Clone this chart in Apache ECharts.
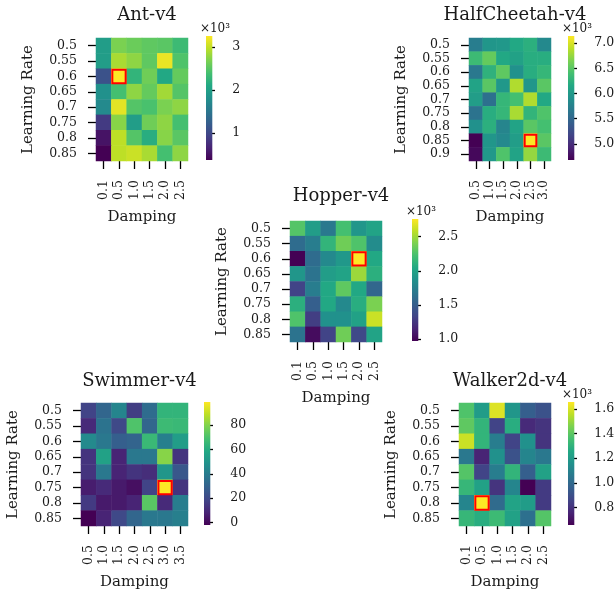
<!DOCTYPE html>
<html><head><meta charset="utf-8">
<script src="https://cdn.jsdelivr.net/npm/echarts@6/dist/echarts.min.js"></script>
<style>html,body{margin:0;padding:0;background:#fff}#c{width:616px;height:593px}</style>
</head><body><div id="c"></div>
<script>
// ---- categories ----
const lrRows8 = ['0.5','0.55','0.6','0.65','0.7','0.75','0.8','0.85'];
const lrRows9 = ['0.5','0.55','0.6','0.65','0.7','0.75','0.8','0.85','0.9'];
const dampA = ['0.1','0.5','1.0','1.5','2.0','2.5'];
const dampB = ['0.5','1.0','1.5','2.0','2.5','3.0'];
const dampC = ['0.5','1.0','1.5','2.0','2.5','3.0','3.5'];

// ---- values (rows = learning rate, cols = damping) ----
const antValues = [
  [1954, 2674, 2588, 2530, 2501, 2328],
  [1954, 2876, 2760, 2530, 3164, 2444],
  [1090, 3250, 2242, 2616, 2098, 2559],
  [1810, 2386, 2760, 2559, 2847, 2472],
  [1724, 3135, 2472, 2415, 2674, 2760],
  [ 860, 2732, 1954, 2616, 2760, 2386],
  [ 514, 2962, 2472, 2156, 2732, 2501],
  [ 370, 2962, 3020, 2876, 2386, 2760]
];
const halfCheetahValues = [
  [5713, 5959, 5984, 6156, 6230, 5836],
  [6353, 6550, 6156, 6082, 6205, 6205],
  [5664, 6254, 6525, 5910, 6205, 6304],
  [6107, 6500, 5984, 6845, 5959, 6500],
  [6033, 5590, 6304, 6402, 6845, 6156],
  [5615, 6205, 6304, 6820, 6279, 6451],
  [5910, 6230, 5787, 6107, 6500, 6402],
  [4680, 5959, 5836, 6033, 7140, 6500],
  [4730, 5984, 6451, 6107, 6746, 6353]
];
const hopperValues = [
  [2277, 1955, 1686, 2223, 1901, 2008],
  [1597, 1722, 2134, 2366, 2259, 1829],
  [ 970, 1597, 1811, 1919, 2760, 2044],
  [1901, 1650, 1955, 2008, 2492, 2098],
  [1328, 1722, 2044, 2313, 2044, 1561],
  [2098, 1507, 2044, 1811, 2080, 2402],
  [2259, 1292, 1865, 1865, 1990, 2617],
  [1650, 1024, 1328, 2366, 1364, 2008]
];
const swimmerValues = [
  [18.2, 31.3, 43.5, 16.2, 33.4, 63.7, 63.7],
  [10.1, 36.4, 20.2, 70.7, 31.3, 66.7, 65.7],
  [45.5, 38.4, 28.3, 30.3, 65.7, 41.4, 53.6],
  [13.2, 55.6,  8.1, 38.4, 38.4, 80.8, 13.2],
  [13.2, 38.4,  8.1, 13.2, 11.1, 50.5, 25.3],
  [ 6.1, 10.1,  5.1,  2.0, 18.2, 99.0, 13.2],
  [15.2,  5.1,  5.1,  8.1, 72.7, 10.1, 40.4],
  [-2.0,  8.1, 20.2, 31.3, 38.4, 38.4, 41.4]
];
const walkerValues = [
  [1376, 1207, 1605, 1177,  959,  909],
  [1406, 1307,  859, 1277,  779,  809],
  [1575, 1307, 1078,  859, 1158,  809],
  [1058,  760, 1158,  909, 1108, 1058],
  [1386,  859, 1078, 1307,  959, 1227],
  [1317, 1227,  809, 1108,  660,  829],
  [1108, 1655, 1008, 1237, 1207,  829],
  [1317, 1277, 1337, 1227, 1028, 1386]
];

// ---- colorbar tick values ----
const antTicks = [1000, 2000, 3000];
const halfCheetahTicks = [5000, 5500, 6000, 6500, 7000];
const hopperTicks = [1000, 1500, 2000, 2500];
const swimmerTicks = [0, 20, 40, 60, 80];
const walkerTicks = [800, 1000, 1200, 1400, 1600];

const viridis = ['#440154','#482475','#414487','#355f8d','#2a788e','#21918c','#22a884','#44bf70','#7ad151','#bddf26','#fde725'];
const FONT = 'DejaVu Serif';
const TXT = '#1a1a1a';

const panels = [
  {title:'Ant-v4', rows:lrRows8, cols:dampA, values:antValues, ticks:antTicks, scaled:true, digits:0,
   grid:{left:96, top:38, width:92, height:123}, bar:{left:206, top:36, height:124}, titleTop:1},
  {title:'HalfCheetah-v4', rows:lrRows9, cols:dampB, values:halfCheetahValues, ticks:halfCheetahTicks, scaled:true, digits:1,
   grid:{left:469, top:38, width:82, height:123}, bar:{left:568, top:36, height:124}, titleTop:1},
  {title:'Hopper-v4', rows:lrRows8, cols:dampA, values:hopperValues, ticks:hopperTicks, scaled:true, digits:1,
   grid:{left:290, top:221, width:92, height:121}, bar:{left:412, top:219, height:122}, titleTop:182},
  {title:'Swimmer-v4', rows:lrRows8, cols:dampC, values:swimmerValues, ticks:swimmerTicks, scaled:false, digits:0,
   grid:{left:81, top:403, width:107, height:123}, bar:{left:204, top:402, height:123}, titleTop:367},
  {title:'Walker2d-v4', rows:lrRows8, cols:dampA, values:walkerValues, ticks:walkerTicks, scaled:true, digits:1,
   grid:{left:459, top:403, width:92, height:123}, bar:{left:568, top:402, height:123}, titleTop:367}
];

const grids = [], xAxes = [], yAxes = [], series = [], visualMaps = [], titles = [];
const gradient = {type:'linear', x:0, y:1, x2:0, y2:0,
  colorStops: viridis.map((c, k) => ({offset: k / (viridis.length - 1), color: c}))};

panels.forEach((p, i) => {
  const flat = p.values.flat();
  const vmin = Math.min(...flat), vmax = Math.max(...flat);
  let bi = 0, bj = 0;
  const data = [];
  p.values.forEach((row, r) => row.forEach((v, c) => {
    data.push([c, r, v]);
    if (v === vmax) { bi = r; bj = c; }
  }));

  grids.push(Object.assign({outerBoundsMode:'none', containLabel:false}, p.grid));
  grids.push({outerBoundsMode:'none', containLabel:false, left:p.bar.left, top:p.bar.top, width:6.3, height:p.bar.height});
  const gi = grids.length - 2;

  titles.push({text:p.title, left:p.grid.left + p.grid.width / 2, top:p.titleTop, textAlign:'center',
    textStyle:{fontFamily:FONT, fontWeight:'normal', fontSize:18, color:TXT}});

  xAxes.push({gridIndex:gi, type:'category', data:p.cols, position:'bottom',
    axisLine:{show:false}, splitLine:{show:false},
    axisTick:{show:true, alignWithLabel:true, length:8, lineStyle:{color:'#000', width:1.3}},
    axisLabel:{rotate:90, margin:19, fontFamily:FONT, fontSize:12.5, color:TXT, interval:0},
    name:'Damping', nameLocation:'middle', nameGap:49,
    nameTextStyle:{fontFamily:FONT, fontSize:15, color:TXT}});
  yAxes.push({gridIndex:gi, type:'category', data:p.rows, inverse:true,
    axisLine:{show:false}, splitLine:{show:false},
    axisTick:{show:true, alignWithLabel:true, length:8, lineStyle:{color:'#000', width:1.3}},
    axisLabel:{margin:19, fontFamily:FONT, fontSize:12.5, color:TXT, interval:0},
    name:'Learning Rate', nameLocation:'middle', nameGap:60,
    nameTextStyle:{fontFamily:FONT, fontSize:15, color:TXT}});

  xAxes.push({gridIndex:gi + 1, type:'value', min:0, max:1, show:false});
  yAxes.push({gridIndex:gi + 1, type:'value', position:'right', min:vmin, max:vmax,
    axisLine:{show:false}, splitLine:{show:false},
    axisTick:{show:true, length:9, customValues:p.ticks, lineStyle:{color:'#000', width:1.3}},
    axisLabel:{customValues:p.ticks, margin:20, fontFamily:FONT, fontSize:12.5, color:TXT,
      formatter: v => p.scaled ? (v / 1000).toFixed(p.digits) : String(v)},
    name: p.scaled ? '×10³' : '', nameLocation:'end', nameGap:1,
    nameTextStyle:{fontFamily:FONT, fontSize:12, color:TXT, padding:[0,0,0,18]}});

  const hs = series.length;
  series.push({type:'heatmap', xAxisIndex:gi, yAxisIndex:gi, data:data, itemStyle:{borderWidth:0}, emphasis:{disabled:true}});
  visualMaps.push({type:'continuous', show:false, seriesIndex:hs, dimension:2, min:vmin, max:vmax, inRange:{color:viridis}});
  series.push({type:'custom', xAxisIndex:gi, yAxisIndex:gi, z:5, data:[[bj, bi]],
    renderItem: (params, api) => {
      const c = api.coord([api.value(0), api.value(1)]);
      const s = api.size([1, 1]);
      return {type:'rect', shape:{x:c[0] - s[0] / 2 + 1, y:c[1] - s[1] / 2 + 1, width:s[0] - 2, height:s[1] - 2},
        style:{fill:'none', stroke:'#ff0000', lineWidth:2}};
    }});
  series.push({type:'custom', xAxisIndex:gi + 1, yAxisIndex:gi + 1, data:[[vmin, vmax]],
    encode:{x:-1, y:[0, 1]},
    renderItem: (params, api) => {
      const p0 = api.coord([0, api.value(0)]);
      const p1 = api.coord([1, api.value(1)]);
      return {type:'rect', shape:{x:p0[0], y:p1[1], width:p1[0] - p0[0], height:p0[1] - p1[1]},
        style:{fill:gradient}};
    }});
});

const chart = echarts.init(document.getElementById('c'), null, {renderer:'canvas'});
chart.setOption({
  backgroundColor:'#fff', animation:false,
  title:titles, grid:grids, xAxis:xAxes, yAxis:yAxes, visualMap:visualMaps, series:series
});
</script></body></html>
